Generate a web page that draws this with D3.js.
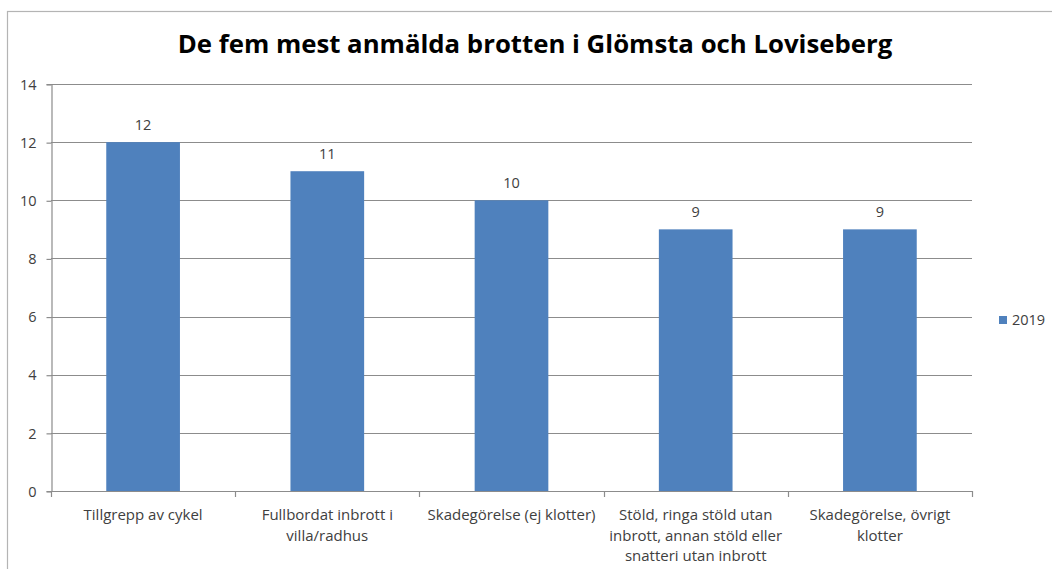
<!DOCTYPE html>
<html>
<head>
<meta charset="utf-8">
<script src="https://cdn.jsdelivr.net/npm/d3@7"></script>
<style>
  html, body { margin: 0; padding: 0; background: #fff; overflow: hidden; }
  svg { display: block; }
  text { font-family: "Open Sans", "Noto Sans", sans-serif; }
</style>
</head>
<body>
<svg id="chart" width="1052" height="569"></svg>
<script>
const title = "De fem mest anmälda brotten i Glömsta och Loviseberg";
const categories = [
  ["Tillgrepp av cykel"],
  ["Fullbordat inbrott i", "villa/radhus"],
  ["Skadegörelse (ej klotter)"],
  ["Stöld, ringa stöld utan", "inbrott, annan stöld eller", "snatteri utan inbrott"],
  ["Skadegörelse, övrigt", "klotter"]
];
const values2019 = [12, 11, 10, 9, 9];
const yTicks = [0, 2, 4, 6, 8, 10, 12, 14];
const seriesName = "2019";

const W = 1052, H = 569;
const svg = d3.select("#chart");

// outer chart frame (cropped at right/bottom in the reference)
svg.append("rect")
  .attr("x", 7.5).attr("y", 11.5)
  .attr("width", W + 20).attr("height", H + 20)
  .attr("fill", "none").attr("stroke", "#b4b4b4").attr("stroke-width", 1.2);

const x = d3.scaleBand()
  .domain(d3.range(categories.length))
  .range([51, 972]);

const y = d3.scaleLinear()
  .domain([0, 14])
  .range([491, 84]);

// gridlines
svg.append("g")
  .selectAll("line")
  .data(yTicks)
  .join("line")
  .attr("x1", 51).attr("x2", 972)
  .attr("y1", d => Math.round(y(d)) + 0.5)
  .attr("y2", d => Math.round(y(d)) + 0.5)
  .attr("stroke", "#8c8c8c").attr("stroke-width", 1.2);

// y axis
const yAxis = svg.append("g")
  .attr("transform", "translate(51.5,0)")
  .call(d3.axisLeft(y).tickValues(yTicks).tickSize(5).tickPadding(10));
yAxis.select(".domain").attr("stroke", "#8c8c8c").attr("stroke-width", 1.2);
yAxis.selectAll(".tick line").attr("stroke", "#8c8c8c").attr("stroke-width", 1.2)
  .attr("transform", "translate(0,0.5)");
yAxis.selectAll(".tick text")
  .attr("fill", "#404040")
  .style("font-size", "14.5px")
  .attr("dy", "0.36em");

// x axis separators
const xAxis = svg.append("g");
xAxis.selectAll("line")
  .data(d3.range(categories.length + 1))
  .join("line")
  .attr("x1", i => Math.round(51 + i * x.step()) + 0.5)
  .attr("x2", i => Math.round(51 + i * x.step()) + 0.5)
  .attr("y1", 491).attr("y2", 497)
  .attr("stroke", "#8c8c8c").attr("stroke-width", 1.2);

// bars
const barW = x.bandwidth() * 0.4;
svg.append("g")
  .selectAll("rect")
  .data(values2019)
  .join("rect")
  .attr("x", (d, i) => x(i) + (x.bandwidth() - barW) / 2)
  .attr("y", d => y(d))
  .attr("width", barW)
  .attr("height", d => y(0) - y(d))
  .attr("fill", "#4f81bd");

// data labels
svg.append("g")
  .selectAll("text")
  .data(values2019)
  .join("text")
  .attr("x", (d, i) => x(i) + x.bandwidth() / 2)
  .attr("y", d => y(d) - 12)
  .attr("text-anchor", "middle")
  .attr("fill", "#404040")
  .style("font-size", "14.5px")
  .text(d => d);

// category labels
const catG = svg.append("g")
  .selectAll("text")
  .data(categories)
  .join("text")
  .attr("x", (d, i) => x(i) + x.bandwidth() / 2)
  .attr("y", 520)
  .attr("text-anchor", "middle")
  .attr("fill", "#404040")
  .style("font-size", "15px");
catG.selectAll("tspan")
  .data(d => d)
  .join("tspan")
  .attr("x", function () { return this.parentNode.getAttribute("x"); })
  .attr("dy", (d, i) => i === 0 ? 0 : 20.5)
  .text(d => d);

// title, scaled to the reference width
const t = svg.append("text")
  .attr("x", 535)
  .attr("y", 53)
  .attr("text-anchor", "middle")
  .attr("fill", "#000")
  .style("font-weight", "bold")
  .style("font-size", "26px")
  .text(title);
const tw = t.node().getComputedTextLength();
t.style("font-size", (26 * 715 / tw) + "px");

// legend
const lg = svg.append("g").attr("transform", "translate(999,316)");
lg.append("rect").attr("width", 8).attr("height", 8).attr("fill", "#4f81bd");
lg.append("text")
  .attr("x", 13).attr("y", 4)
  .attr("dy", "0.36em")
  .attr("fill", "#404040")
  .style("font-size", "14.5px")
  .text(seriesName);
</script>
</body>
</html>
